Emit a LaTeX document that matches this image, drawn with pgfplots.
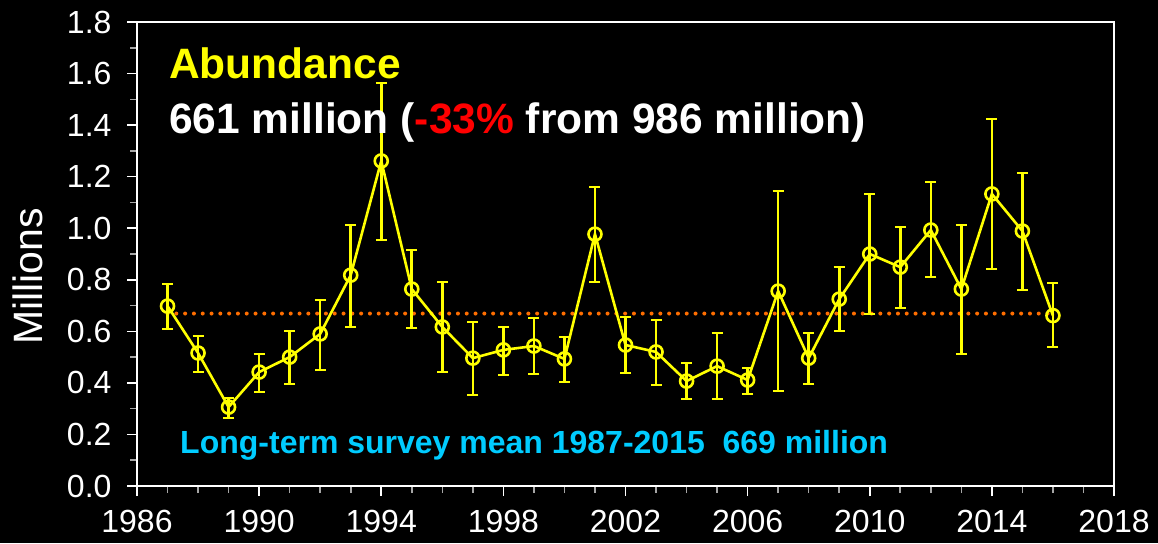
\documentclass[border=0pt]{standalone}
\usepackage{fontspec}
\setmainfont{Liberation Sans}
\usepackage{pgfplots}
\usepackage{pgfplotstable}
\pgfplotsset{compat=1.18}
\definecolor{myyellow}{RGB}{255,255,0}
\definecolor{myorange}{RGB}{255,110,0}
\definecolor{mycyan}{RGB}{0,204,255}
\definecolor{myred}{RGB}{255,0,0}
\pgfplotstableread{
year y hi lo
1987 0.698 0.784 0.609
1988 0.516 0.582 0.442
1989 0.306 0.341 0.264
1990 0.442 0.512 0.365
1991 0.500 0.601 0.396
1992 0.590 0.721 0.450
1993 0.818 1.012 0.617
1994 1.261 1.563 0.954
1995 0.764 0.915 0.613
1996 0.617 0.791 0.442
1997 0.496 0.636 0.353
1998 0.528 0.617 0.431
1999 0.543 0.652 0.434
2000 0.493 0.578 0.403
2001 0.977 1.160 0.791
2002 0.547 0.656 0.438
2003 0.520 0.644 0.392
2004 0.407 0.477 0.337
2005 0.465 0.593 0.337
2006 0.411 0.458 0.357
2007 0.756 1.144 0.368
2008 0.496 0.593 0.396
2009 0.725 0.849 0.601
2010 0.900 1.133 0.667
2011 0.849 1.005 0.690
2012 0.993 1.179 0.811
2013 0.764 1.012 0.512
2014 1.133 1.424 0.842
2015 0.989 1.214 0.760
2016 0.661 0.787 0.539
}\datatable
\begin{document}
\begin{tikzpicture}
\fill[black] (-137pt,-57pt) rectangle (1021pt,486pt);
\begin{axis}[
  scale only axis, width=977pt, height=464pt,
  at={(0pt,0pt)}, anchor=south west,
  xmin=1986, xmax=2018, ymin=0, ymax=1.8,
  xtick={1986,1990,...,2018}, minor x tick num=3,
  ytick={0,0.2,...,1.8}, minor y tick num=1,
  axis line style={white, line width=2.6pt},
  tick align=outside, tick pos=left,
  major tick length=10pt, minor tick length=7pt,
  major tick style={white, line width=1.6pt},
  minor tick style={gray!70, line width=1.6pt},
  ticklabel style={white, font=\fontsize{32}{38}\selectfont},
  yticklabel style={/pgf/number format/fixed, /pgf/number format/fixed zerofill, /pgf/number format/precision=1, /pgf/number format/assume math mode=true, xshift=-12pt},
  xticklabel style={/pgf/number format/set thousands separator={}, /pgf/number format/assume math mode=true, yshift=-11pt},
  ylabel={Millions},
  every axis y label/.style={at={(axis description cs:0,0.4515)}, xshift=-109pt, rotate=90, anchor=center, white, font=\fontsize{41}{48}\selectfont},
  clip=false,
]
\addplot[myorange, line width=4pt, dash pattern=on 0pt off 8.8pt, line cap=round] coordinates {(1987,0.669) (2016,0.669)};
\addplot[myyellow, line width=2.6pt, mark=o, mark size=6.5pt, mark options={solid, line width=2.6pt},
  error bars/.cd, y dir=both, y explicit, error mark=|,
  error bar style={line width=2.6pt, myyellow},
  error mark options={line width=2.6pt, mark size=5.5pt, myyellow}]
  table[x=year, y=y, y error plus expr=\thisrow{hi}-\thisrow{y}, y error minus expr=\thisrow{y}-\thisrow{lo}] {\datatable};
\node[anchor=base west, inner sep=0pt, text=myyellow, font=\fontsize{42.5}{50}\selectfont\bfseries] at (axis cs:1987.05,1.579) {Abundance};
\node[anchor=base west, inner sep=0pt, text=white, font=\fontsize{42.5}{50}\selectfont\bfseries] at (axis cs:1987.05,1.369) {661 million (\textcolor{myred}{-33\%} from 986 million)};
\node[anchor=base west, inner sep=0pt, text=mycyan, font=\fontsize{32}{38}\selectfont\bfseries] at (axis cs:1987.41,0.128) {Long-term survey mean 1987-2015\ \ 669 million};
\end{axis}
\pgfresetboundingbox
\path (-137pt,-57pt) rectangle (1021pt,486pt);
\end{tikzpicture}
\end{document}
